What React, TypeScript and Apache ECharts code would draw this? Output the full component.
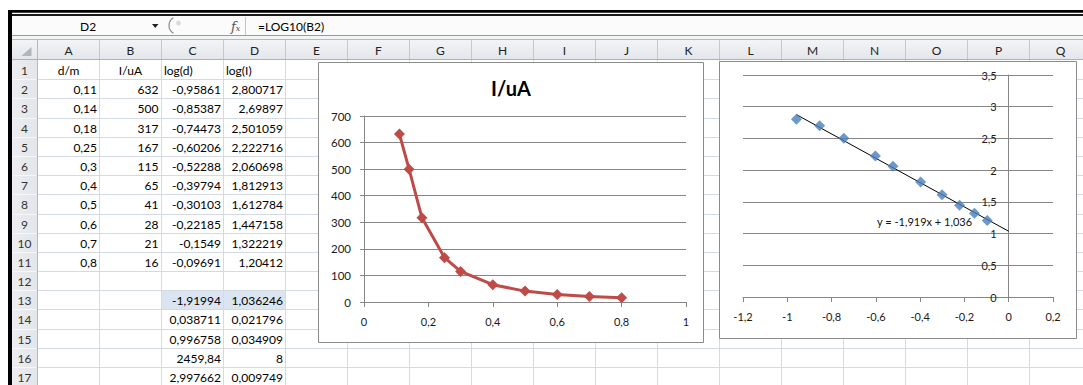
import React, { useEffect, useRef } from "react";
import * as echarts from "echarts";

// ---- data read from the sheet ----
const distance = [0.11, 0.14, 0.18, 0.25, 0.3, 0.4, 0.5, 0.6, 0.7, 0.8];
const current = [632, 500, 317, 167, 115, 65, 41, 28, 21, 16];
const logD = [-0.95861, -0.85387, -0.74473, -0.60206, -0.52288, -0.39794, -0.30103, -0.22185, -0.1549, -0.09691];
const logI = [2.800717, 2.69897, 2.501059, 2.222716, 2.060698, 1.812913, 1.612784, 1.447158, 1.322219, 1.20412];
const statsC = [-1.91994, 0.038711, 0.996758, 2459.84, 2.997662];
const statsD = [1.036246, 0.021796, 0.034909, 8, 0.009749];
const row1Headers = ["d/m", "I/uA", "log(d)", "log(I)"];
const columnLetters = ["A", "B", "C", "D", "E", "F", "G", "H", "I", "J", "K", "L", "M", "N", "O", "P", "Q"];
const rowNumbers = [1, 2, 3, 4, 5, 6, 7, 8, 9, 10, 11, 12, 13, 14, 15, 16, 17];
const trendline = [[-0.959, 2.876], [0, 1.036]];
const equationText = "y = -1,919x + 1,036";
const chartTitle = "I/uA";
const nameBoxText = "D2";
const formulaText = "=LOG10(B2)";

const FONT = "Lato, 'Liberation Sans', sans-serif";
const fmt = (v: number) => String(Math.round(v * 1e6) / 1e6).replace(".", ",");
const colX = (i: number) => Math.round(36.7 + 62.02 * i) + 0.5;
const rowY = (n: number) => Math.round(60 + 19.19 * n) + 0.5;

// chart 2 plot geometry
const G2 = { left: 743, top: 75, width: 310, height: 222 };
const X2_MIN = -1.2;
const X2_MAX = 0.2;

function txt(x: number, y: number, text: string, opts: any = {}) {
  const align = opts.align || "left";
  return {
    type: "text",
    z: opts.z ?? 3,
    style: {
      text,
      x,
      y,
      font: opts.font || `12px ${FONT}`,
      fill: opts.fill || "#000",
      align,
      textAlign: align,
      verticalAlign: "middle",
      textVerticalAlign: "middle",
    },
  };
}
function rect(x: number, y: number, w: number, h: number, style: any, z = 0) {
  return { type: "rect", z, shape: { x, y, width: w, height: h }, style };
}
function line(x1: number, y1: number, x2: number, y2: number, stroke: string, z = 1, lineWidth = 1) {
  return { type: "line", z, shape: { x1, y1, x2, y2 }, style: { stroke, lineWidth } };
}

function buildSheet() {
  const els: any[] = [];
  els.push(rect(0, 0, 1083, 385, { fill: "#ffffff" }, 0));
  // window frame
  els.push(rect(8, 10, 1075, 2.7, { fill: "#000" }, 2));
  els.push(rect(12, 14, 1071, 2, { fill: "#1a1a1a" }, 2));
  els.push(rect(8, 10, 4, 375, { fill: "#000" }, 2));
  // formula bar
  els.push(rect(12, 16, 1071, 19.5, { fill: "#fbfbfb" }, 0));
  els.push(line(12, 35.5, 1083, 35.5, "#9a9a9a", 1));
  els.push(rect(12, 36, 1071, 3.5, { fill: "#f3f4f6" }, 0));
  els.push(txt(80, 26, nameBoxText, {}));
  els.push({ type: "polygon", z: 3, shape: { points: [[152, 24], [158.5, 24], [155.25, 28]] }, style: { fill: "#222" } });
  els.push({ type: "arc", z: 3, shape: { cx: 178, cy: 25.5, r: 9, startAngle: (2 * Math.PI) / 3, endAngle: (4 * Math.PI) / 3 }, style: { stroke: "#8a8a8a", lineWidth: 1.2, fill: "none" } });
  els.push({ type: "circle", z: 3, shape: { cx: 178.5, cy: 23, r: 2.5 }, style: { fill: "#dcdcdc" } });
  els.push({
    type: "text", z: 3,
    style: { text: "{f|f}{x|x}", x: 231, y: 26, verticalAlign: "middle", textVerticalAlign: "middle",
      rich: { f: { font: "italic 13px 'DejaVu Serif', serif", fill: "#555" }, x: { font: "italic 8px 'DejaVu Serif', serif", fill: "#555", padding: [4, 0, 0, 0] } } },
  });
  els.push(line(245.5, 17, 245.5, 35, "#c4c4c4", 2));
  els.push(txt(258, 26, formulaText, {}));
  // column header row
  els.push(rect(12, 39.5, 1071, 20.5, {
    fill: { type: "linear", x: 0, y: 0, x2: 0, y2: 1, colorStops: [{ offset: 0, color: "#f3f4f6" }, { offset: 1, color: "#e3e6ea" }] },
  }, 0));
  els.push(line(12, 39.5, 1083, 39.5, "#b4bac3", 2));
  els.push(line(12, 59.5, 1083, 59.5, "#a9b2be", 2));
  // corner glyph
  els.push({ type: "polygon", z: 3, shape: { points: [[31.5, 47], [31.5, 56], [21.5, 56]] }, style: { fill: "#b3b6ba" } });
  // row header column
  els.push(rect(12, 60, 25, 325, {
    fill: { type: "linear", x: 0, y: 0, x2: 1, y2: 0, colorStops: [{ offset: 0, color: "#eceef1" }, { offset: 1, color: "#e2e5e9" }] },
  }, 0));
  // cells: grid lines
  for (let i = 1; i <= 17; i++) {
    const x = colX(i);
    els.push(line(x, 60, x, 385, "#d4dae4", 1));
    els.push(line(x, 40, x, 59, "#c3c9d1", 2));
  }
  els.push(line(colX(0), 40, colX(0), 385, "#b2b9c3", 2));
  for (let n = 1; n <= 17; n++) {
    const y = rowY(n);
    els.push(line(37, y, 1083, y, "#d4dae4", 1));
    els.push(line(12, y, 36.5, y, "#f6f7f8", 2));
  }
  // selection C13:D13
  els.push(rect(colX(2), rowY(12), colX(4) - colX(2), rowY(13) - rowY(12), { fill: "#dbe5f1" }, 0));
  // column letters
  columnLetters.forEach((c, i) => {
    els.push(txt((colX(i) + colX(i + 1)) / 2, 50, c, { align: "center", fill: "#222" }));
  });
  // row numbers
  rowNumbers.forEach((r, i) => {
    els.push(txt(24.5, (rowY(i) + rowY(i + 1)) / 2, String(r), { align: "center", fill: "#333" }));
  });
  const cy = (r: number) => (rowY(r - 1) + rowY(r)) / 2;
  // row 1 headers
  els.push(txt((colX(0) + colX(1)) / 2, cy(1), row1Headers[0], { align: "center" }));
  els.push(txt((colX(1) + colX(2)) / 2, cy(1), row1Headers[1], { align: "center" }));
  els.push(txt(colX(2) + 2.5, cy(1), row1Headers[2]));
  els.push(txt(colX(3) + 2.5, cy(1), row1Headers[3]));
  // data rows
  for (let i = 0; i < distance.length; i++) {
    const r = i + 2;
    els.push(txt(colX(1) - 2.5, cy(r), fmt(distance[i]), { align: "right" }));
    els.push(txt(colX(2) - 3, cy(r), fmt(current[i]), { align: "right" }));
    els.push(txt(colX(3) - 2.5, cy(r), fmt(logD[i]), { align: "right" }));
    els.push(txt(colX(4) - 2.5, cy(r), fmt(logI[i]), { align: "right" }));
  }
  for (let i = 0; i < statsC.length; i++) {
    const r = i + 13;
    els.push(txt(colX(3) - 2.5, cy(r), fmt(statsC[i]), { align: "right" }));
    els.push(txt(colX(4) - 2.5, cy(r), fmt(statsD[i]), { align: "right" }));
  }
  // chart boxes
  els.push(rect(318.5, 62.5, 385, 280, { fill: "#ffffff", stroke: "#8c8c8c", lineWidth: 1 }, 4));
  els.push(rect(719.5, 61.5, 357, 277, { fill: "#ffffff", stroke: "#8c8c8c", lineWidth: 1 }, 4));
  // chart title & equation
  els.push(txt(511, 88, chartTitle, { align: "center", font: `bold 20px ${FONT}`, z: 8 }));
  els.push(txt(877, 221, equationText, { font: `11px ${FONT}`, fill: "#111", z: 8 }));
  return els;
}

const axisGrey = "#868686";
const labelStyle = { fontSize: 11, fontFamily: FONT, color: "#1a1a1a" };

export default function App() {
  const ref = useRef<HTMLDivElement>(null);
  useEffect(() => {
    if (!ref.current) return;
    const chart = echarts.init(ref.current, undefined, { renderer: "svg" });
    // y axis of chart 2 crosses at x = 0: shift it into the plot from the left edge
    const y2Offset = -(G2.width * (0 - X2_MIN)) / (X2_MAX - X2_MIN);
    const option: any = {
      animation: false,
      graphic: { elements: buildSheet() },
      grid: [
        { left: 364, top: 116, width: 322, height: 186, show: false },
        { ...G2, show: false },
      ],
      xAxis: [
        {
          type: "value", gridIndex: 0, min: 0, max: 1, interval: 0.2, z: 5,
          splitLine: { show: false },
          axisLine: { show: true, onZero: false, lineStyle: { color: axisGrey } },
          axisTick: { show: true, length: 5, lineStyle: { color: axisGrey } },
          axisLabel: { ...labelStyle, margin: 14, formatter: (v: number) => fmt(v) },
        },
        {
          type: "value", gridIndex: 1, min: X2_MIN, max: X2_MAX, interval: 0.2, z: 5,
          splitLine: { show: false },
          axisLine: { show: true, onZero: false, lineStyle: { color: axisGrey } },
          axisTick: { show: true, length: 5, lineStyle: { color: axisGrey } },
          axisLabel: { ...labelStyle, margin: 14, formatter: (v: number) => fmt(Math.round(v * 10) / 10) },
        },
      ],
      yAxis: [
        {
          type: "value", gridIndex: 0, min: 0, max: 700, interval: 100, z: 5,
          splitLine: { show: true, lineStyle: { color: axisGrey } },
          axisLine: { show: true, onZero: false, lineStyle: { color: axisGrey } },
          axisTick: { show: true, length: 4, lineStyle: { color: axisGrey } },
          axisLabel: { ...labelStyle, fontSize: 11.5, margin: 13, formatter: (v: number) => fmt(v) },
        },
        {
          type: "value", gridIndex: 1, min: 0, max: 3.5, interval: 0.5, z: 5,
          position: "left", offset: y2Offset,
          splitLine: { show: true, lineStyle: { color: axisGrey } },
          axisLine: { show: true, onZero: false, lineStyle: { color: axisGrey } },
          axisTick: { show: true, length: 4, lineStyle: { color: axisGrey } },
          axisLabel: { ...labelStyle, margin: 12, formatter: (v: number) => fmt(Math.round(v * 10) / 10) },
        },
      ],
      series: [
        {
          name: "I/uA", type: "line", xAxisIndex: 0, yAxisIndex: 0, z: 6,
          data: distance.map((d, i) => [d, current[i]]),
          symbol: "diamond", symbolSize: 11,
          lineStyle: { color: "#be4b48", width: 3 },
          itemStyle: { color: "#be4b48" },
        },
        {
          name: "trend", type: "line", xAxisIndex: 1, yAxisIndex: 1, z: 6,
          data: trendline, symbol: "none",
          lineStyle: { color: "#000", width: 1 },
        },
        {
          name: "log", type: "scatter", xAxisIndex: 1, yAxisIndex: 1, z: 7,
          data: logD.map((d, i) => [d, logI[i]]),
          symbol: "diamond", symbolSize: 11,
          itemStyle: { color: "#4a7ebb" },
        },
      ],
    };
    chart.setOption(option);
    return () => chart.dispose();
  }, []);
  return <div ref={ref} style={{ position: "absolute", left: 0, top: 0, width: 1083, height: 385 }} />;
}
